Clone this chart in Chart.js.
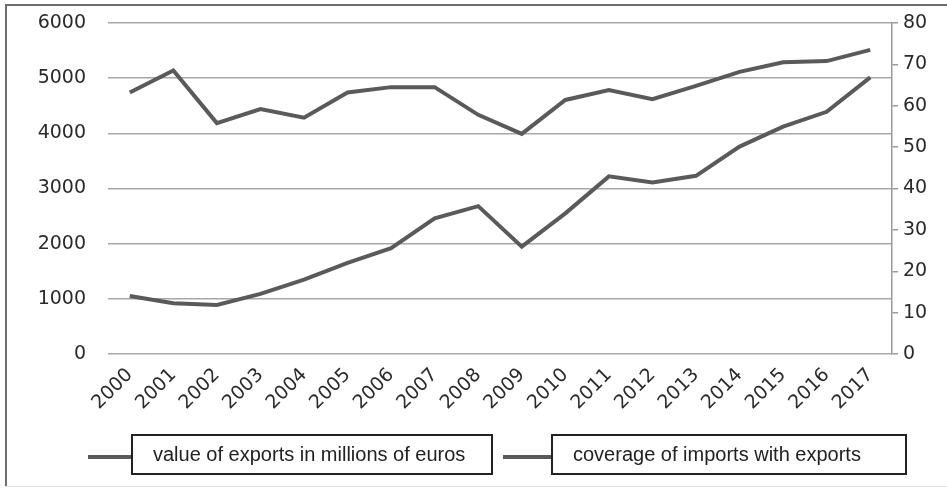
<!DOCTYPE html>
<html>
<head>
<meta charset="utf-8">
<script src="https://cdn.jsdelivr.net/npm/chart.js@4.4.0/dist/chart.umd.min.js"></script>
<style>
  body { margin: 0; background: #fff; }
  #wrap { position: relative; width: 947px; height: 489px; overflow: hidden; }
  #chart { position: absolute; left: 0; top: 0; }
  .frame-top { position: absolute; left: 5px; top: 4px; width: 942px; height: 2px; background: #6e6e6e; }
  .frame-left { position: absolute; left: 5px; top: 4px; width: 2px; height: 483px; background: #6e6e6e; }
  .frame-bottom { position: absolute; left: 5px; top: 486px; width: 942px; height: 1px; background: #e2e2e2; }
  .leg-line { position: absolute; height: 4px; background: #5a5a5a; }
  .leg-box { position: absolute; box-sizing: border-box; border: 2px solid #222; background: #fff;
    font-family: "Liberation Sans", Arial, sans-serif; font-size: 20px; color: #222; line-height: 36px; }
</style>
</head>
<body>
<div id="wrap">
  <canvas id="chart" width="947" height="489"></canvas>
  <div class="frame-top"></div>
  <div class="frame-left"></div>
  <div class="frame-bottom"></div>
  <div class="leg-line" style="left:88px; top:455px; width:44px;"></div>
  <div class="leg-box" id="leg1" style="left:131px; top:434px; width:362px; height:41px; padding-left:20px;"></div>
  <div class="leg-line" style="left:503px; top:455px; width:49px;"></div>
  <div class="leg-box" id="leg2" style="left:551px; top:434px; width:356px; height:41px; padding-left:20px;"></div>
</div>
<script>
// categories and series
const years = ["2000", "2001", "2002", "2003", "2004", "2005", "2006", "2007", "2008",
  "2009", "2010", "2011", "2012", "2013", "2014", "2015", "2016", "2017"];
const exportsValue = [1050, 920, 890, 1090, 1350, 1650, 1920, 2460, 2680,
  1945, 2550, 3220, 3110, 3230, 3760, 4120, 4390, 5015];
const importCoverage = [63.2, 68.5, 55.8, 59.2, 57.1, 63.2, 64.5, 64.5, 57.8,
  53.2, 61.4, 63.8, 61.6, 64.8, 68.2, 70.5, 70.8, 73.5];
const seriesNames = ["value of exports in millions of euros", "coverage of imports with exports"];
const leftAxis = { min: 0, max: 6000, step: 1000 };
const rightAxis = { min: 0, max: 80, step: 10 };

document.getElementById("leg1").textContent = seriesNames[0];
document.getElementById("leg2").textContent = seriesNames[1];

const lineColor = "#5a5a5a";
const tickFont = { family: "'DejaVu Sans', Verdana, sans-serif", size: 19 };

// keep the plot box where the reference has it (108..892 x 23..354)
function fixWidth(w) {
  return (s) => { s.width = w; s.paddingTop = 0; s.paddingBottom = 0; };
}

new Chart(document.getElementById("chart").getContext("2d"), {
  type: "line",
  data: {
    labels: years,
    datasets: [
      {
        label: seriesNames[0],
        data: exportsValue,
        yAxisID: "y",
        borderColor: lineColor,
        borderWidth: 4,
        pointRadius: 0,
        tension: 0,
      },
      {
        label: seriesNames[1],
        data: importCoverage,
        yAxisID: "y1",
        borderColor: lineColor,
        borderWidth: 4,
        pointRadius: 0,
        tension: 0,
      },
    ],
  },
  options: {
    responsive: false,
    animation: false,
    devicePixelRatio: 1,
    layout: { padding: { left: 0, right: 0, top: 23, bottom: 75 } },
    plugins: { legend: { display: false }, tooltip: { enabled: false } },
    scales: {
      x: {
        offset: true,
        grid: { display: false },
        border: { display: false },
        ticks: { minRotation: 45, maxRotation: 45, font: tickFont, color: "#2a2a2a", padding: 2 },
        afterFit: (s) => { s.height = 60; s.paddingLeft = 0; s.paddingRight = 0; },
      },
      y: {
        position: "left",
        min: leftAxis.min,
        max: leftAxis.max,
        ticks: { stepSize: leftAxis.step, font: tickFont, color: "#2a2a2a", padding: 22, callback: (v) => String(v) },
        grid: { color: "#a8a8a8", lineWidth: 1.5, drawTicks: false },
        border: { display: false },
        afterFit: fixWidth(108),
      },
      y1: {
        position: "right",
        min: rightAxis.min,
        max: rightAxis.max,
        ticks: { stepSize: rightAxis.step, font: tickFont, color: "#2a2a2a", padding: 5 },
        grid: { drawOnChartArea: false, drawTicks: true, tickLength: 6, color: "#9a9a9a", lineWidth: 1.5 },
        border: { display: true, color: "#9a9a9a", width: 1.5 },
        afterFit: fixWidth(55),
      },
    },
  },
});
</script>
</body>
</html>
